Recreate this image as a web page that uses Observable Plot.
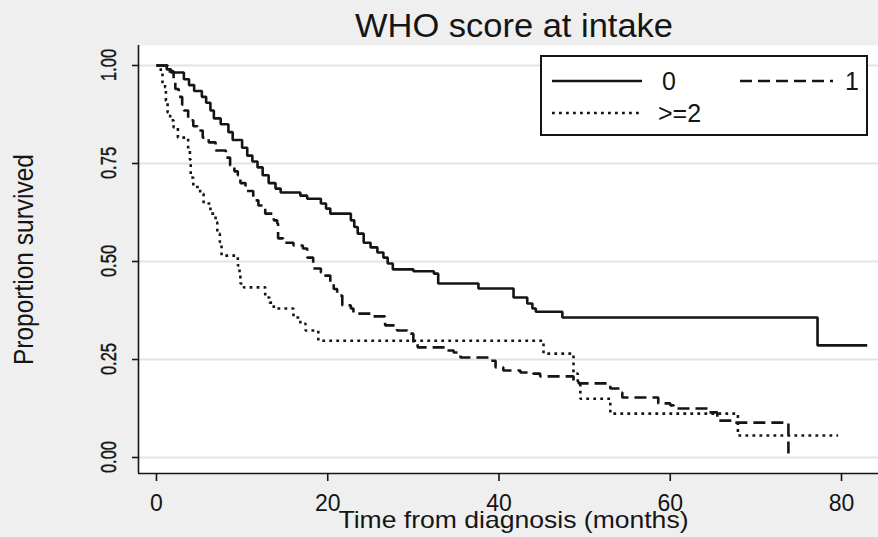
<!DOCTYPE html>
<html>
<head>
<meta charset="utf-8">
<script src="https://cdn.jsdelivr.net/npm/d3@7"></script>
<script src="https://cdn.jsdelivr.net/npm/@observablehq/plot@0.6"></script>
<style>
  html, body { margin: 0; padding: 0; background: #efefef; }
  #wrap { position: relative; width: 878px; height: 537px; background: #efefef; overflow: hidden;
          font-family: "Liberation Sans", Arial, sans-serif; color: #111; }
  #title { position: absolute; left: 0; top: 0; width: 878px; height: 45px; }
  #chart { position: absolute; left: 0; top: 45px; }
  #legend { position: absolute; left: 540px; top: 55px; }
</style>
</head>
<body>
<div id="wrap">
  <svg id="title" width="878" height="45"></svg>
  <div id="chart"></div>
  <svg id="legend" width="328" height="81"></svg>
</div>
<script>
// ---- Data ----
const titleText = "WHO score at intake";
const xLabel = "Time from diagnosis (months)";
const yLabel = "Proportion survived";
const xTicks = [0, 20, 40, 60, 80];
const yTicks = [0, 0.25, 0.5, 0.75, 1];
const yTickLabels = ["0.00", "0.25", "0.50", "0.75", "1.00"];
const seriesNames = ["0", "1", ">=2"];

// WHO score 0 (solid)
const time0 = [0, 1.2, 1.7, 3.2, 3.8, 4.4, 5.3, 5.8, 6.3, 6.7, 7.5, 8.4, 8.9, 10.0, 10.6, 11.2, 11.8, 12.4, 13.1, 13.9, 14.5, 16.8, 17.6, 19.2, 19.8, 20.3, 22.7, 23.1, 23.5, 24.2, 25.0, 25.8, 26.5, 27.0, 27.6, 30.0, 32.4, 32.9, 37.6, 41.7, 43.3, 43.9, 44.3, 47.4, 77.2, 83.0];
const surv0 = [1.0, 0.99, 0.982, 0.965, 0.95, 0.935, 0.92, 0.905, 0.885, 0.865, 0.85, 0.83, 0.81, 0.79, 0.77, 0.755, 0.74, 0.72, 0.70, 0.686, 0.676, 0.668, 0.66, 0.648, 0.635, 0.622, 0.605, 0.588, 0.571, 0.548, 0.536, 0.523, 0.51, 0.495, 0.48, 0.475, 0.469, 0.444, 0.431, 0.408, 0.393, 0.38, 0.372, 0.357, 0.286, 0.286];

// WHO score 1 (dashed)
const time1 = [0, 1.3, 2.0, 2.2, 2.6, 3.0, 3.2, 3.7, 4.3, 4.8, 5.4, 6.1, 6.9, 8.1, 8.6, 9.1, 9.5, 9.8, 10.4, 11.3, 11.9, 12.7, 13.7, 14.1, 14.2, 14.8, 16.0, 17.1, 17.6, 18.3, 19.2, 19.5, 20.3, 20.7, 21.1, 21.7, 22.7, 23.0, 25.0, 26.7, 28.1, 29.3, 30.0, 30.5, 33.8, 34.7, 35.5, 39.0, 39.6, 40.5, 42.5, 44.0, 44.8, 48.7, 49.3, 53.0, 54.2, 54.4, 58.6, 60.0, 60.4, 64.4, 65.5, 67.4, 73.8];
const surv1 = [1.0, 0.985, 0.96, 0.94, 0.92, 0.90, 0.885, 0.86, 0.845, 0.834, 0.816, 0.804, 0.783, 0.765, 0.745, 0.73, 0.72, 0.70, 0.68, 0.656, 0.643, 0.622, 0.605, 0.597, 0.559, 0.548, 0.541, 0.533, 0.51, 0.482, 0.472, 0.464, 0.444, 0.43, 0.413, 0.388, 0.38, 0.367, 0.36, 0.337, 0.324, 0.316, 0.293, 0.281, 0.273, 0.268, 0.255, 0.247, 0.23, 0.222, 0.217, 0.214, 0.207, 0.196, 0.189, 0.176, 0.166, 0.153, 0.138, 0.133, 0.125, 0.115, 0.094, 0.089, 0.0];

// WHO score >=2 (dotted)
const time2 = [0, 0.5, 0.7, 1.0, 1.1, 1.3, 1.6, 2.0, 2.5, 3.7, 3.9, 4.0, 4.3, 5.1, 5.5, 6.3, 6.9, 7.1, 7.4, 7.6, 9.5, 9.7, 9.8, 10.2, 12.7, 13.2, 13.7, 16.0, 16.8, 17.4, 18.9, 45.2, 48.7, 49.2, 49.5, 53.0, 67.9, 79.6];
const surv2 = [1.0, 0.985, 0.954, 0.944, 0.91, 0.88, 0.86, 0.842, 0.816, 0.783, 0.76, 0.714, 0.69, 0.673, 0.648, 0.622, 0.60, 0.571, 0.55, 0.515, 0.49, 0.465, 0.444, 0.434, 0.408, 0.395, 0.38, 0.357, 0.342, 0.324, 0.298, 0.265, 0.214, 0.189, 0.15, 0.112, 0.056, 0.056];

// ---- Styles ----
const ink = "#151515";
const fontFam = "'Liberation Sans', Arial, sans-serif";
const dashStyles = [null, "12,6", "2.8,4.2"];
const xDomain = [-2.1, 84.32];
const yDomain = [-0.0408, 1.051];

const toRows = (ts, ss) => ts.map((t, i) => ({t, s: ss[i]}));
const rows = [toRows(time0, surv0), toRows(time1, surv1), toRows(time2, surv2)];

const chart = Plot.plot({
  width: 878,
  height: 492,
  marginLeft: 138,
  marginRight: 0,
  marginTop: 0,
  marginBottom: 64,
  style: {background: "transparent", color: ink, fontFamily: fontFam},
  x: {domain: xDomain, label: null},
  y: {domain: yDomain, label: null},
  marks: [
    Plot.frame({fill: "white", stroke: "none"}),
    Plot.gridY(yTicks, {stroke: "#e3e3e3", strokeOpacity: 1, strokeWidth: 2}),
    ...rows.map((r, i) => Plot.line(r, {
      x: "t", y: "s", curve: "step-after",
      stroke: ink, strokeWidth: 2.6,
      strokeDasharray: dashStyles[i] || undefined,
      strokeLinecap: "butt", strokeLinejoin: "miter"
    })),
    Plot.ruleX([xDomain[0]], {stroke: ink, strokeWidth: 1.6}),
    Plot.ruleY([yDomain[0]], {stroke: ink, strokeWidth: 1.6}),
    Plot.axisX(xTicks, {tickSize: 8, tickPadding: 13, fontSize: 23, strokeWidth: 1.6, label: null}),
    Plot.axisY(yTicks, {tickSize: 6, tickFormat: () => "", strokeWidth: 1.6, label: null}),
    Plot.text([yLabel], {frameAnchor: "left", dx: -114.5, rotate: -90, fontSize: 27,
      textAnchor: "middle", lineAnchor: "middle", fill: ink}),
    Plot.text([xLabel], {frameAnchor: "bottom", dx: 5, dy: 47, fontSize: 24,
      textAnchor: "middle", lineAnchor: "middle", fill: ink})
  ]
});
document.getElementById("chart").appendChild(chart);

// axis titles: match the reference's stretched lettering
d3.select(chart).selectAll("text").each(function() {
  const s = this.textContent;
  if (s === yLabel) {
    this.setAttribute("textLength", 211);
    this.setAttribute("lengthAdjust", "spacingAndGlyphs");
  } else if (s === xLabel) {
    this.setAttribute("textLength", 350);
    this.setAttribute("lengthAdjust", "spacingAndGlyphs");
  }
});

// y tick labels: vertical, tall and narrow, positioned through Plot's own scales
const sx = chart.scale("x"), sy = chart.scale("y");
const x0 = sx.apply(xDomain[0]);
const gTicks = d3.select(chart).append("g")
  .attr("font-family", fontFam).attr("font-size", 16.5).attr("fill", ink)
  .attr("text-anchor", "middle");
yTicks.forEach((v, i) => {
  gTicks.append("text")
    .attr("transform", `translate(${x0 - 29},${sy.apply(v)}) rotate(-90) scale(1,1.38)`)
    .attr("dy", "0.32em")
    .attr("stroke", ink).attr("stroke-width", 0.3)
    .text(yTickLabels[i]);
});

// Title
const tsvg = d3.select("#title");
tsvg.append("text")
  .attr("x", 514).attr("y", 37)
  .attr("text-anchor", "middle")
  .attr("font-size", 33)
  .attr("font-family", fontFam)
  .attr("fill", ink)
  .attr("textLength", 318).attr("lengthAdjust", "spacingAndGlyphs")
  .text(titleText);

// Legend
const lg = d3.select("#legend");
lg.append("rect").attr("x", 1).attr("y", 1).attr("width", 326).attr("height", 79)
  .attr("fill", "white").attr("stroke", ink).attr("stroke-width", 2);
const legendItems = [
  {x1: 12, x2: 102, y: 26, tx: 122},
  {x1: 200, x2: 293, y: 26, tx: 305},
  {x1: 12, x2: 102, y: 58, tx: 118}
];
legendItems.forEach((it, i) => {
  const ln = lg.append("line").attr("x1", it.x1).attr("x2", it.x2).attr("y1", it.y).attr("y2", it.y)
    .attr("stroke", ink).attr("stroke-width", 2.3);
  if (dashStyles[i]) ln.attr("stroke-dasharray", dashStyles[i]);
  lg.append("text").attr("x", it.tx).attr("y", it.y + 9)
    .attr("font-size", 25).attr("font-family", fontFam)
    .attr("fill", ink).text(seriesNames[i]);
});
</script>
</body>
</html>
